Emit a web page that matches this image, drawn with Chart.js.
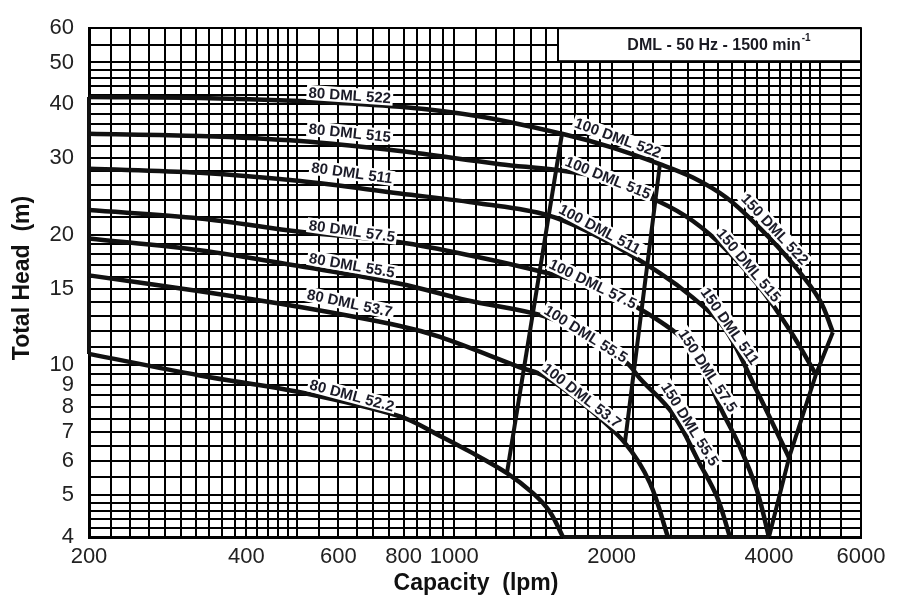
<!DOCTYPE html>
<html>
<head>
<meta charset="utf-8">
<script src="https://cdn.jsdelivr.net/npm/chart.js@4.4.1/dist/chart.umd.min.js"></script>
<style>
  html, body { margin: 0; padding: 0; background: #fff; }
  #wrap { width: 909px; height: 602px; }
</style>
</head>
<body>
<div id="wrap"><canvas id="chart" width="909" height="602"></canvas></div>
<script>
// Courbes : débit (lpm) et hauteur totale (m)
const q522 = [200, 326, 507, 787, 1120, 1607, 1985, 2474, 2861, 3324, 3843, 4446, 5006, 5300];
const h522 = [41.6, 41.4, 40.7, 39.5, 37.5, 34.2, 31.9, 29.1, 27.1, 24.3, 20.7, 17.1, 14.1, 11.9];
const q515 = [200, 326, 507, 787, 1223, 1572, 1899, 2474, 2861, 3324, 3843, 4389, 4920];
const h515 = [34.2, 33.8, 32.9, 31.2, 29.1, 28.2, 27.1, 23.8, 21.5, 18.4, 15.1, 12.0, 9.5];
const q511 = [200, 326, 507, 787, 1120, 1504, 1899, 2474, 2861, 3296, 3793, 4370];
const h511 = [28.4, 27.8, 26.6, 24.9, 23.6, 22.2, 19.7, 16.3, 14.3, 12.1, 8.7, 6.1];
const q575 = [200, 326, 507, 787, 1120, 1504, 1899, 2168, 2667, 2951, 3224, 3521, 3793, 4000];
const h575 = [22.8, 21.8, 20.3, 19.2, 17.7, 16.3, 15.1, 13.9, 11.8, 10.2, 8.0, 6.45, 5.13, 4];
const q555 = [200, 326, 507, 787, 1057, 1504, 1818, 2140, 2266, 2620, 2951, 3182, 3368];
const h555 = [19.6, 18.4, 16.9, 15.4, 14.1, 12.9, 11.5, 10.1, 9.3, 7.7, 5.9, 4.95, 4];
const q537 = [200, 326, 507, 787, 939, 1335, 1491, 1778, 2120, 2368, 2563];
const h537 = [16.1, 14.8, 13.6, 12.3, 11.6, 9.87, 9.4, 8.06, 6.6, 5.33, 4];
const q522s = [200, 326, 507, 787, 939, 1071, 1261, 1414, 1524, 1614];
const h522s = [10.6, 9.45, 8.64, 7.6, 6.85, 6.3, 5.62, 5.05, 4.57, 4];

// Limites des familles 80 / 100 / 150
const qEdgeLeft = [200, 200];
const hEdgeLeft = [10.6, 41.6];
const qEdge1 = [1607, 1261];
const hEdge1 = [34.2, 5.62];
const qEdge2 = [2474, 2120];
const hEdge2 = [29.1, 6.6];
const qEdgeRight = [5300, 4920, 4370, 4000];
const hEdgeRight = [11.9, 9.5, 6.1, 4];
const qEdgeBottom = [1614, 4000];
const hEdgeBottom = [4, 4];

// Étiquettes des modèles
const labelText = ['80 DML 522', '80 DML 515', '80 DML 511', '80 DML 57.5', '80 DML 55.5', '80 DML 53.7', '80 DML 52.2',
    '100 DML 522', '100 DML 515', '100 DML 511', '100 DML 57.5', '100 DML 55.5', '100 DML 53.7',
    '150 DML 522', '150 DML 515', '150 DML 511', '150 DML 57.5', '150 DML 55.5'];
const labelQ = [631, 631, 637, 637, 637, 631, 637, 2056, 1968, 1899, 1842, 1786, 1755, 4106, 3662, 3368, 3057, 2825];
const labelH = [42.0, 34.4, 27.8, 20.4, 17.0, 13.9, 8.5, 33.5, 27.1, 20.6, 15.4, 11.8, 8.5, 20.6, 17.0, 12.3, 9.7, 7.3];
const labelAngle = [4, 6, 8, 8, 10, 12, 15, 20, 22, 28, 26, 32, 38, 47, 50, 55, 57, 58];

// Graduations
function steps(from, to, step) {
    const out = [];
    for (let v = from; v <= to + 1e-9; v += step) out.push(Math.round(v * 10) / 10);
    return out;
}
const xGrid = [...new Set([].concat(steps(200, 500, 20), steps(500, 1000, 50), steps(1000, 2000, 100), steps(2000, 5000, 200), [5500, 6000]))];
const yGrid = [...new Set([].concat(steps(4, 5, 0.2), steps(5, 10, 0.5), steps(10, 20, 1), steps(20, 50, 2), [55, 60]))];
const xLabels = [200, 400, 600, 800, 1000, 2000, 4000, 6000];
const yLabels = [4, 5, 6, 7, 8, 9, 10, 15, 20, 30, 40, 50, 60];

function pts(q, h) {
    return q.map((x, i) => ({ x: x, y: h[i] }));
}

const curve = (q, h) => ({ data: pts(q, h), borderColor: '#111', borderWidth: 4.5, showLine: true,
    pointRadius: 0, tension: 0.35, clip: 6 });
const edge = (q, h) => ({ data: pts(q, h), borderColor: '#111', borderWidth: 4, showLine: true,
    pointRadius: 0, tension: 0, clip: 6 });

const FONT = '"Liberation Sans", Arial, sans-serif';

const decorations = {
    id: 'decorations',
    afterDatasetsDraw(chart) {
        const ctx = chart.ctx;
        const xs = chart.scales.x, ys = chart.scales.y;
        const area = chart.chartArea;
        ctx.save();

        // Cartouche
        ctx.fillStyle = '#fff';
        ctx.fillRect(558, area.top, area.right - 558, 33);
        ctx.strokeStyle = '#000';
        ctx.lineWidth = 2;
        ctx.strokeRect(558, area.top, area.right - 558, 33);
        ctx.fillStyle = '#1a1a22';
        ctx.textBaseline = 'middle';
        const main = 'DML - 50 Hz - 1500 min';
        ctx.font = 'bold 10px ' + FONT;
        const supW = ctx.measureText('-1').width;
        ctx.font = 'bold 16px ' + FONT;
        const mainW = ctx.measureText(main).width;
        const x0 = 719 - (mainW + supW + 1) / 2;
        ctx.textAlign = 'left';
        ctx.fillText(main, x0, area.top + 17);
        ctx.font = 'bold 10px ' + FONT;
        ctx.fillText('-1', x0 + mainW + 1, area.top + 10);

        // Étiquettes des courbes
        ctx.font = 'bold 15px ' + FONT;
        ctx.textAlign = 'center';
        labelText.forEach((t, i) => {
            const px = xs.getPixelForValue(labelQ[i]);
            const py = ys.getPixelForValue(labelH[i]);
            const w = ctx.measureText(t).width + 4;
            ctx.save();
            ctx.translate(px, py);
            ctx.rotate(labelAngle[i] * Math.PI / 180);
            ctx.fillStyle = '#fff';
            ctx.fillRect(-w / 2, -7.5, w, 15);
            ctx.fillStyle = '#1b1b28';
            ctx.fillText(t, 0, 1);
            ctx.restore();
        });

        // Titres des axes
        ctx.fillStyle = '#111';
        ctx.font = 'bold 23px ' + FONT;
        ctx.textAlign = 'center';
        ctx.fillText('Capacity  (lpm)', 476, 584);
        ctx.save();
        ctx.translate(23, 278);
        ctx.rotate(-Math.PI / 2);
        ctx.fillText('Total Head  (m)', 0, 0);
        ctx.restore();
        ctx.restore();
    }
};

new Chart(document.getElementById('chart'), {
    type: 'scatter',
    data: {
        datasets: [
            curve(q522, h522), curve(q515, h515), curve(q511, h511), curve(q575, h575),
            curve(q555, h555), curve(q537, h537), curve(q522s, h522s),
            edge(qEdgeLeft, hEdgeLeft), edge(qEdge1, hEdge1), edge(qEdge2, hEdge2),
            edge(qEdgeRight, hEdgeRight), edge(qEdgeBottom, hEdgeBottom)
        ]
    },
    options: {
        responsive: false,
        animation: false,
        devicePixelRatio: 1,
        layout: { padding: { top: 27, right: 48, left: 0, bottom: 0 } },
        plugins: { legend: { display: false }, tooltip: { enabled: false } },
        scales: {
            x: {
                type: 'logarithmic',
                min: 200,
                max: 6000,
                afterBuildTicks: s => { s.ticks = xGrid.map(v => ({ value: v })); },
                afterFit: s => { s.height = 65; },
                grid: { color: '#000', lineWidth: 2, drawTicks: false },
                border: { color: '#000', width: 3 },
                ticks: {
                    autoSkip: false, maxRotation: 0, padding: 7, color: '#222',
                    font: { family: FONT, size: 22 },
                    callback: v => xLabels.includes(v) ? String(v) : ''
                }
            },
            y: {
                type: 'logarithmic',
                min: 4,
                max: 60,
                afterBuildTicks: s => { s.ticks = yGrid.map(v => ({ value: v })); },
                afterFit: s => { s.width = 89; },
                grid: { color: '#000', lineWidth: 2, drawTicks: false },
                border: { color: '#000', width: 3 },
                ticks: {
                    autoSkip: false, padding: 15, color: '#222',
                    font: { family: FONT, size: 22 },
                    callback: v => yLabels.includes(v) ? String(v) : ''
                }
            }
        }
    },
    plugins: [decorations]
});
</script>
</body>
</html>
